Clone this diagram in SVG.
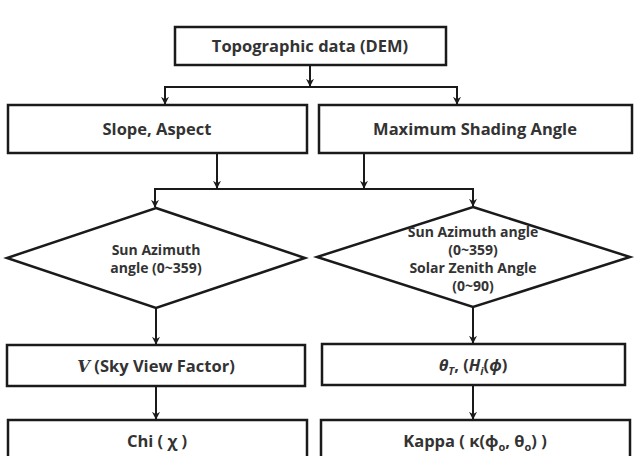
<svg xmlns="http://www.w3.org/2000/svg" width="643" height="456" viewBox="0 0 643 456">
<style>
.box{fill:#fff;stroke:#1a1a1a;stroke-width:2.5}
.lbl{font-family:"Open Sans","Noto Sans",sans-serif;font-weight:bold;font-size:16.5px;fill:#333;text-anchor:middle}
.sm{font-size:14px}
.con{fill:none;stroke:#1a1a1a;stroke-width:2}
.sub{font-size:11px}
</style>
<defs>
<marker id="ah" viewBox="0 0 10 10" refX="9" refY="5" markerWidth="8" markerHeight="8" orient="auto" markerUnits="userSpaceOnUse">
<path d="M0,0 L10,5 L0,10 L3,5 Z" fill="#1a1a1a"/>
</marker>
</defs>
<rect width="643" height="456" fill="#fff"/>
<g id="connectors">
<path class="con" d="M310,65 V86" marker-end="url(#ah)"/>
<path class="con" d="M165,104 V87 H457 V104"/>
<path class="con" d="M165,90 V104" marker-end="url(#ah)"/>
<path class="con" d="M457,90 V104" marker-end="url(#ah)"/>
<path class="con" d="M217,153 V188" marker-end="url(#ah)"/>
<path class="con" d="M364,153 V188" marker-end="url(#ah)"/>
<path class="con" d="M155,207 V189 H473 V207"/>
<path class="con" d="M155,192 V207" marker-end="url(#ah)"/>
<path class="con" d="M473,192 V206" marker-end="url(#ah)"/>
<path class="con" d="M156,308 V344" marker-end="url(#ah)"/>
<path class="con" d="M473,307 V343" marker-end="url(#ah)"/>
<path class="con" d="M156,386 V419" marker-end="url(#ah)"/>
<path class="con" d="M473,385 V419" marker-end="url(#ah)"/>
</g>
<g id="topo">
<rect class="box" x="175" y="27" width="271" height="38"/>
<text class="lbl" x="310" y="52">Topographic data (DEM)</text>
</g>
<g id="slope">
<rect class="box" x="8" y="105" width="299" height="48"/>
<text class="lbl" x="157" y="135">Slope, Aspect</text>
</g>
<g id="msa">
<rect class="box" x="319" y="105" width="313" height="48"/>
<text class="lbl" x="475" y="135">Maximum Shading Angle</text>
</g>
<g id="dia1">
<polygon class="box" points="156,208 305,258 156,308 7,258"/>
<text class="lbl sm" x="156" y="255">Sun Azimuth</text>
<text class="lbl sm" x="156" y="273">angle (0~359)</text>
</g>
<g id="dia2">
<polygon class="box" points="473,207 630,257 473,307 317,257"/>
<text class="lbl sm" x="473" y="237">Sun Azimuth angle</text>
<text class="lbl sm" x="473" y="255">(0~359)</text>
<text class="lbl sm" x="473" y="273">Solar Zenith Angle</text>
<text class="lbl sm" x="473" y="291">(0~90)</text>
</g>
<g id="svf">
<rect class="box" x="7" y="345" width="298" height="41"/>
<text class="lbl" x="156" y="372"><tspan font-style="italic" font-family="'DejaVu Serif',serif">V</tspan> (Sky View Factor)</text>
</g>
<g id="theta">
<rect class="box" x="322" y="344" width="303" height="41"/>
<text class="lbl" x="473" y="371" font-family="'DejaVu Serif',serif"><tspan font-style="italic">θ</tspan><tspan class="sub" font-style="italic" dy="4">T</tspan><tspan dy="-4">, (</tspan><tspan font-style="italic">H</tspan><tspan class="sub" font-style="italic" dy="4">i</tspan><tspan dy="-4">(</tspan><tspan font-style="italic">ϕ</tspan>)</text>
</g>
<g id="chi">
<rect class="box" x="8" y="420" width="299" height="50"/>
<text class="lbl" x="157" y="447">Chi ( χ )</text>
</g>
<g id="kappa">
<rect class="box" x="321" y="420" width="309" height="50"/>
<text class="lbl" x="475" y="447">Kappa ( κ(ϕ<tspan class="sub" dy="4">o</tspan><tspan dy="-4">, θ</tspan><tspan class="sub" dy="4">o</tspan><tspan dy="-4">) )</tspan></text>
</g>
</svg>
